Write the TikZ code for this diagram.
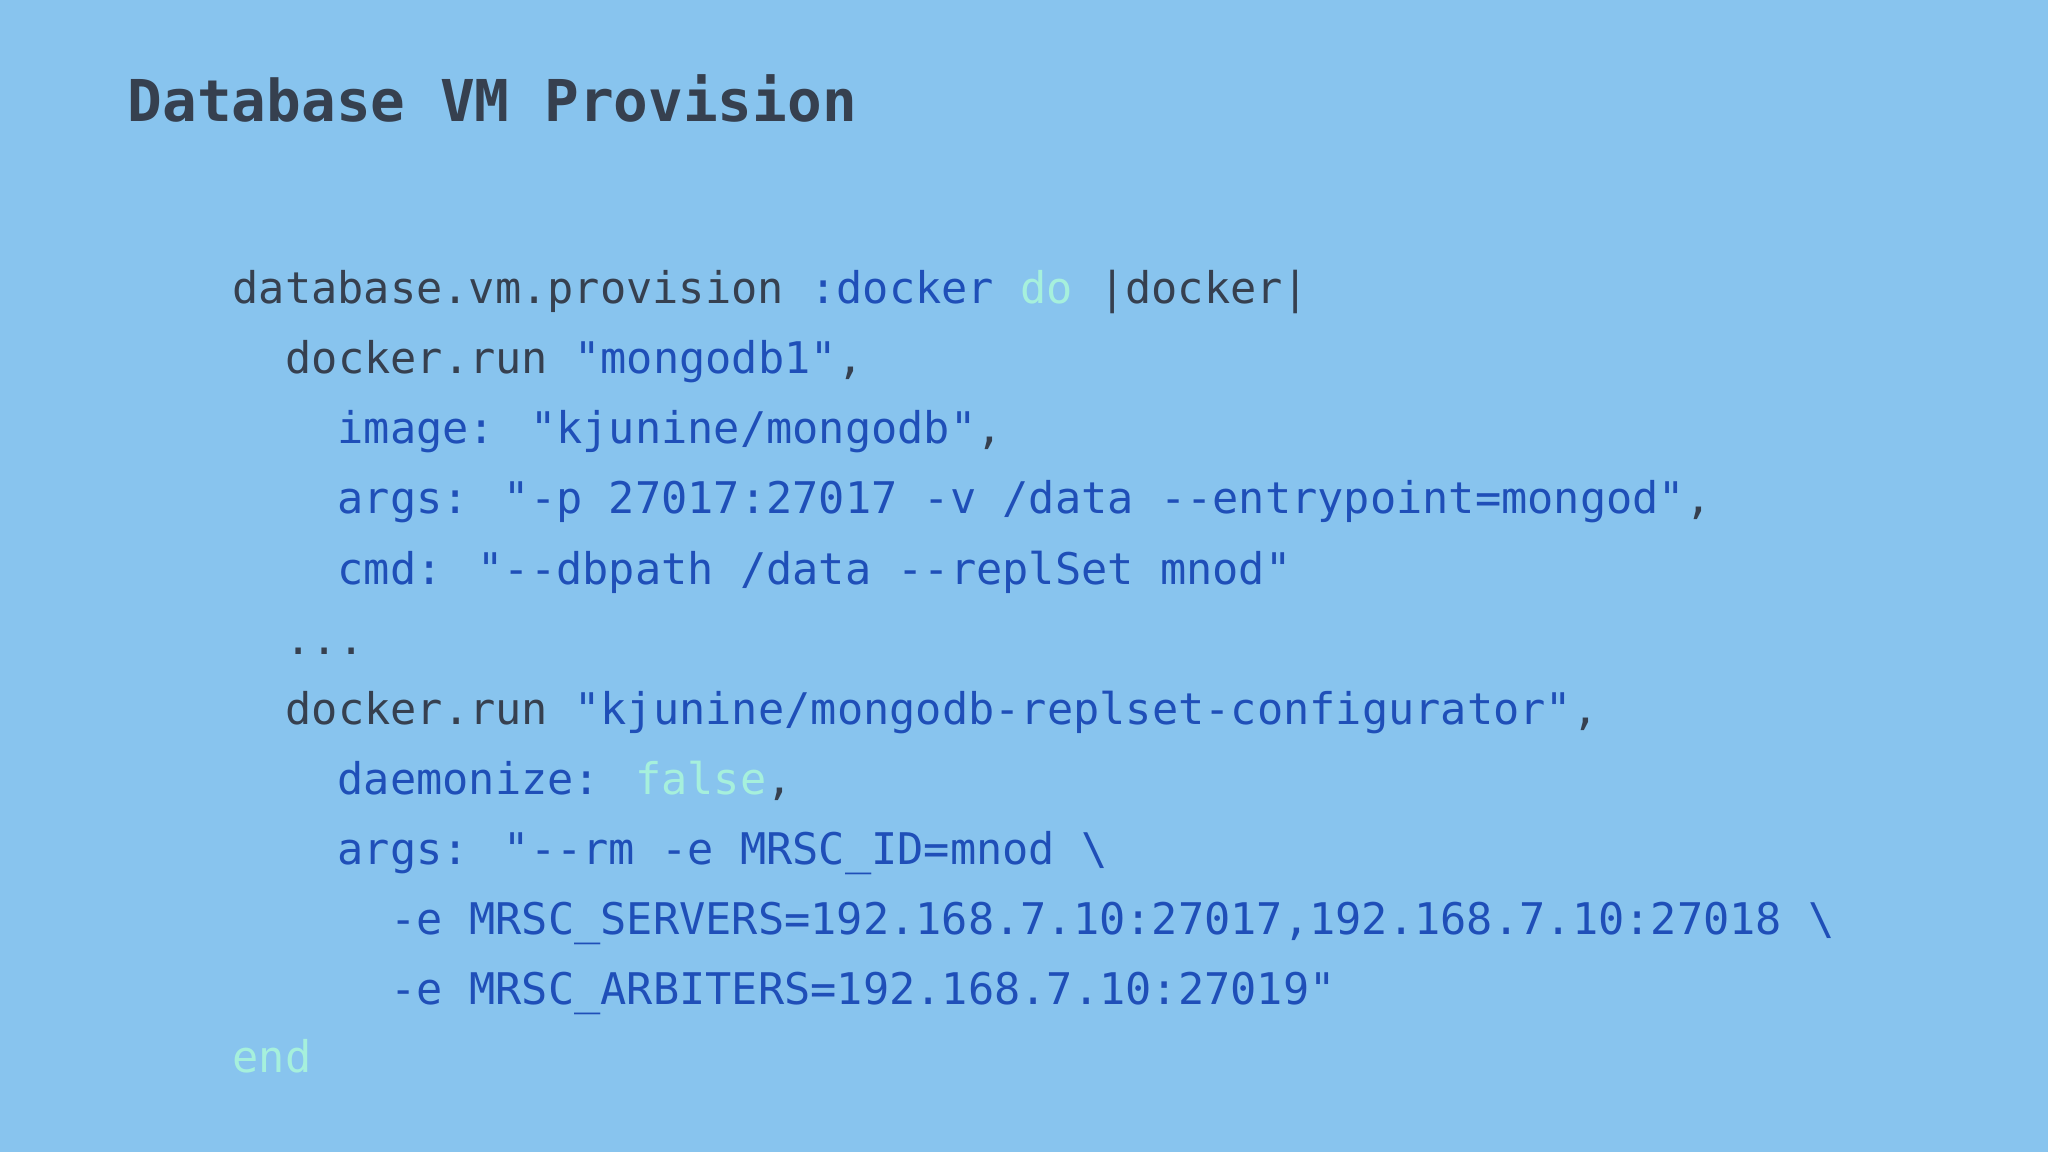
\documentclass[tikz,border=0pt]{standalone}
\usepackage{fontspec}
\newfontfamily\code{DejaVu Sans Mono}
\newfontfamily\titlefont{DejaVu Sans Mono}
\definecolor{bg}{HTML}{88C4EE}
\definecolor{dk}{HTML}{36404F}
\definecolor{bl}{HTML}{1F4FB8}
\definecolor{gr}{HTML}{A6F0DC}
\newcommand{\B}[1]{\textcolor{bl}{#1}}
\newcommand{\G}[1]{\textcolor{gr}{#1}}
\tikzset{ln/.style={anchor=base west,inner sep=0pt,text=dk,font=\code\fontsize{12.4}{14}\selectfont}}
\begin{document}
\begin{tikzpicture}[x=0.01cm,y=-0.01cm]
\fill[bg] (0,0) rectangle (2048,1152);
\node[anchor=base west,inner sep=0pt,text=dk,font=\titlefont\bfseries\fontsize{16.4}{18}\selectfont] (t) at (127,122) {Database VM Provision};
\node[ln] (l1) at (232,304) {database.vm.provision \B{:docker} \G{do} |docker|};
\node[ln] (l2) at (285,374) {docker.run \B{"mongodb1"},};
\node[ln] (l3) at (337,444) {\B{image: "kjunine/mongodb"},};
\node[ln] (l4) at (337,514) {\B{args: "-p 27017:27017 -v /data -{}-entrypoint=mongod"},};
\node[ln] (l5) at (337,584) {\B{cmd: "-{}-dbpath /data -{}-replSet mnod"}};
\node[ln] (l6) at (285,654) {...};
\node[ln] (l7) at (285,724) {docker.run \B{"kjunine/mongodb-replset-configurator"},};
\node[ln] (l8) at (337,794) {\B{daemonize:} \G{false},};
\node[ln] (l9) at (337,864) {\B{args: "-{}-rm -e MRSC\_ID=mnod \textbackslash}};
\node[ln] (l10) at (390,934) {\B{-e MRSC\_SERVERS=192.168.7.10:27017,192.168.7.10:27018 \textbackslash}};
\node[ln] (l11) at (390,1004) {\B{-e MRSC\_ARBITERS=192.168.7.10:27019"}};
\node[ln] (l12) at (232,1072) {\G{end}};
\end{tikzpicture}
\end{document}
